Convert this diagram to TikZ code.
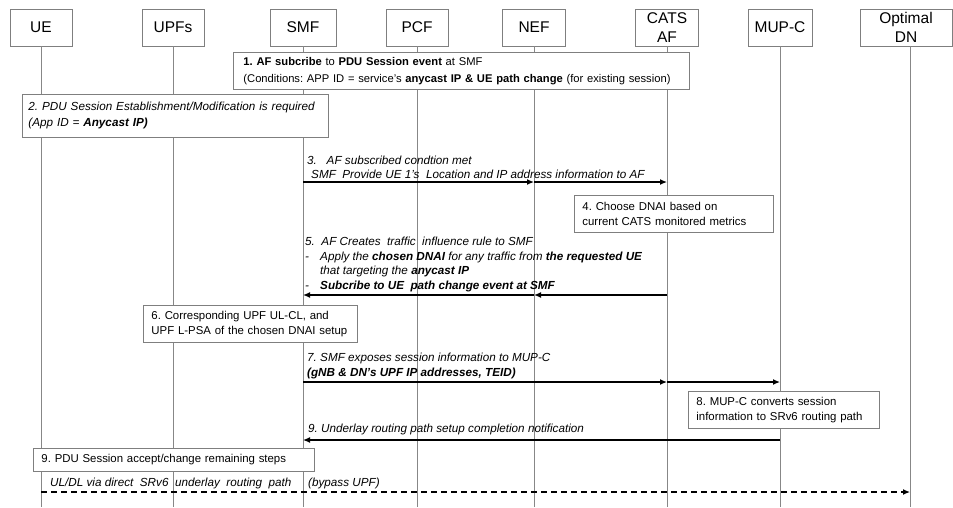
\documentclass[tikz,border=0pt]{standalone}
\usepackage{fontspec}
\setmainfont{Liberation Sans}
\usetikzlibrary{arrows.meta}
\definecolor{boxgray}{HTML}{7F7F7F}
\definecolor{lifegray}{HTML}{878787}
\newcommand{\bodyfont}{\fontsize{11.4}{15}\selectfont}
\frenchspacing
\begin{document}
\begin{tikzpicture}[x=1pt,y=-1pt,
  actor/.style={draw=boxgray, line width=0.9pt, fill=white, minimum height=37pt,
    inner sep=0pt, align=center, font=\fontsize{15.5}{19}\selectfont},
  life/.style={draw=lifegray, line width=1pt},
  note/.style={draw=boxgray, line width=0.9pt, fill=white, anchor=north west,
    align=left, inner xsep=8pt, inner ysep=0pt, font=\bodyfont},
  msg/.style={line width=1.3pt, -{Latex[length=7pt,width=6pt]}},
  dashmsg/.style={line width=1.3pt, dash pattern=on 6pt off 4pt, -{Latex[length=7pt,width=6pt]}},
  lbl/.style={anchor=south west, inner sep=0pt, align=left,
    font=\fontsize{11.7}{14.5}\selectfont\itshape}]
\useasboundingbox (0,0) rectangle (953,507);

% participants
\node[actor, minimum width=62pt] (ue)   at (41,27.5)  {UE};
\node[actor, minimum width=62pt] (upf)  at (173,27.5) {UPFs};
\node[actor, minimum width=66pt] (smf)  at (303,27.5) {SMF};
\node[actor, minimum width=62pt] (pcf)  at (417,27.5) {PCF};
\node[actor, minimum width=63pt] (nef)  at (534,27.5) {NEF};
\node[actor, minimum width=63pt] (af)   at (667,27.5) {CATS\\AF};
\node[actor, minimum width=64pt] (mup)  at (780,27.5) {MUP-C};
\node[actor, minimum width=92pt] (dn)   at (906,27.5) {Optimal\\DN};

% lifelines
\coordinate (bot) at (0,507);
\coordinate (dnL) at (910,46);
\foreach \p in {ue,upf,smf,pcf,nef,af,mup}
  \draw[life] (\p.south) -- (\p.south |- bot);
\draw[life] (dnL) -- (dnL |- bot);

% message rows
\coordinate (y3) at (0,182);
\coordinate (y5) at (0,295);
\coordinate (y7) at (0,382);
\coordinate (y9) at (0,440);
\coordinate (yd) at (0,492);

% 1
\node[note, minimum width=456pt, text width=436pt, minimum height=37pt, inner xsep=10pt,
      font=\fontsize{11.2}{15}\selectfont] (n1) at (233,52)
  {\mbox{\textbf{1. AF subcribe} to \textbf{PDU Session event} at SMF}\\[1.5pt]
   \mbox{(Conditions: APP ID = service’s \textbf{anycast IP \& UE path change} (for existing session)}};

% 2
\node[note, minimum width=306pt, text width=294pt, minimum height=43pt, inner xsep=6pt,
      font=\fontsize{11.7}{16}\selectfont\itshape] (n2) at (22,94)
  {2. PDU Session Establishment/Modification is required\\
   (App ID = \textbf{Anycast IP)}};

% 3
\draw[msg] (smf |- y3) -- (nef |- y3);
\draw[msg] (nef |- y3) -- (af |- y3);
\node[lbl] (l3) at (307,179) {3.\ \ \ AF subscribed condtion met\\
  \hspace*{4pt}SMF\ \ Provide UE 1’s\ \ Location and IP address information to AF};

% 4
\node[note, minimum width=199pt, text width=183pt, minimum height=37pt] (n4) at (574,195)
  {4. Choose DNAI based on\\current CATS monitored metrics};

% 5
\draw[msg] (af |- y5) -- (nef |- y5);
\draw[msg] (nef |- y5) -- (smf |- y5);
\node[lbl] (l5) at (305,292) {5.\ \ AF Creates\ \ traffic\ \ influence rule to SMF\\
  \makebox[15pt][l]{-}Apply the \textbf{chosen DNAI} for any traffic from \textbf{the requested UE}\\
  \hspace*{15pt}that targeting the \textbf{anycast IP}\\
  \makebox[15pt][l]{-}\textbf{Subcribe to UE\ \ path change event at SMF}};

% 6
\node[note, minimum width=214pt, text width=198pt, minimum height=37pt] (n6) at (143,305)
  {\mbox{6. Corresponding UPF UL-CL, and}\\\mbox{UPF L-PSA of the chosen DNAI setup}};

% 7
\draw[msg] (smf |- y7) -- (af |- y7);
\draw[msg] (af |- y7) -- (mup |- y7);
\node[lbl, font=\fontsize{11.7}{15}\selectfont\itshape] (l7) at (307,379)
  {7. SMF exposes session information to MUP-C\\
   \textbf{(gNB \& DN’s UPF IP addresses, TEID)}};

% 8
\node[note, minimum width=191pt, text width=175pt, minimum height=37pt] (n8) at (688,391)
  {8. MUP-C converts session\\information to SRv6 routing path};

% 9
\draw[msg] (mup |- y9) -- (smf |- y9);
\node[lbl] (l9) at (308,435) {9. Underlay routing path setup completion notification};

% 9 (UE side)
\node[note, minimum width=281pt, text width=265pt, minimum height=23pt] (n9) at (33,448)
  {9. PDU Session accept/change remaining steps};

% user plane
\draw[dashmsg] (ue |- yd) -- (dnL |- yd);
\node[lbl] (ld1) at (50,489) {UL/DL via direct\ \ SRv6\ \ underlay\ \ routing\ \ path};
\node[lbl] (ld2) at (308,489) {(bypass UPF)};
\end{tikzpicture}
\end{document}
